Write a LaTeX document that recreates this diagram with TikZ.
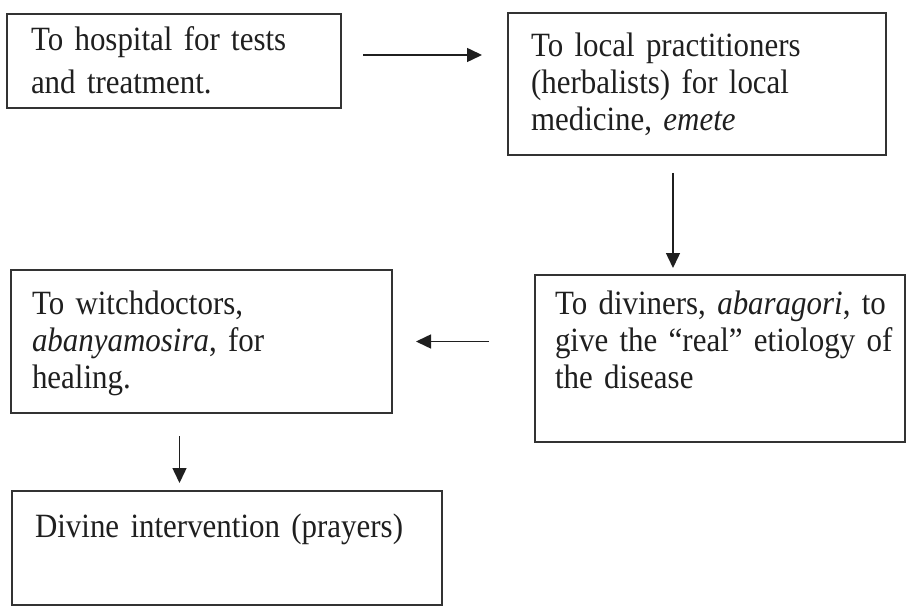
\documentclass[tikz,border=0pt]{standalone}
\usepackage{fontspec}
\setmainfont{Liberation Serif}[FakeStretch=0.91]
\usetikzlibrary{arrows.meta}

\begin{document}
\begin{tikzpicture}[x=1pt,y=-1pt,->,>={Triangle[length=15pt,width=14pt]},
    box/.style={draw=black!80,line width=1.6pt,anchor=north west,outer sep=0pt,
      inner ysep=0pt,align=left,text=black!88,font=\fontsize{34}{37}\selectfont},
    flow/.style={line width=1.5pt,draw=black!88}]
  \useasboundingbox (0,0) rectangle (908,607);
  \node[box,inner xsep=24pt,text width=286pt,text height=37pt,text depth=57pt,
    font=\fontsize{34}{43}\selectfont] (hosp) at (7,14) {To hospital for tests\\and treatment.};
  \node[box,inner xsep=23pt,text width=332pt,text height=44pt,text depth=98pt]
    (herb) at (508,13) {To local practitioners\\(herbalists) for local\\medicine, \textit{emete}};
  \node[box,inner xsep=20pt,text width=330pt,text height=39pt,text depth=128pt]
    (divin) at (535,275) {\mbox{To diviners, \textit{abaragori}, to}\\\mbox{give the ``real'' etiology of}\\the disease};
  \node[box,inner xsep=21pt,text width=339pt,text height=44pt,text depth=99pt]
    (witch) at (11,270) {To witchdoctors,\\\textit{abanyamosira}, for\\healing.};
  \node[box,inner xsep=23pt,text width=384pt,text height=46pt,text depth=68pt]
    (prayer) at (12,491) {Divine intervention (prayers)};
  % arrows between the boxes
  \coordinate (hb) at ([yshift=6pt]hosp.east);
  \coordinate (bd) at ([xshift=-24pt]herb.south);
  \coordinate (wp) at ([xshift=-22pt]witch.south);
  \draw[flow,shorten <=22pt,shorten >=26pt] (hb) -- (hb -| herb.west);
  \draw[flow,shorten <=18pt,shorten >=7pt] (bd) -- (bd |- divin.north);
  \draw[flow,shorten <=46pt,shorten >=24pt] (divin.west |- witch.east) -- (witch.east);
  \draw[flow,shorten <=23pt,shorten >=8pt] (wp) -- (wp |- prayer.north);
\end{tikzpicture}
\end{document}
